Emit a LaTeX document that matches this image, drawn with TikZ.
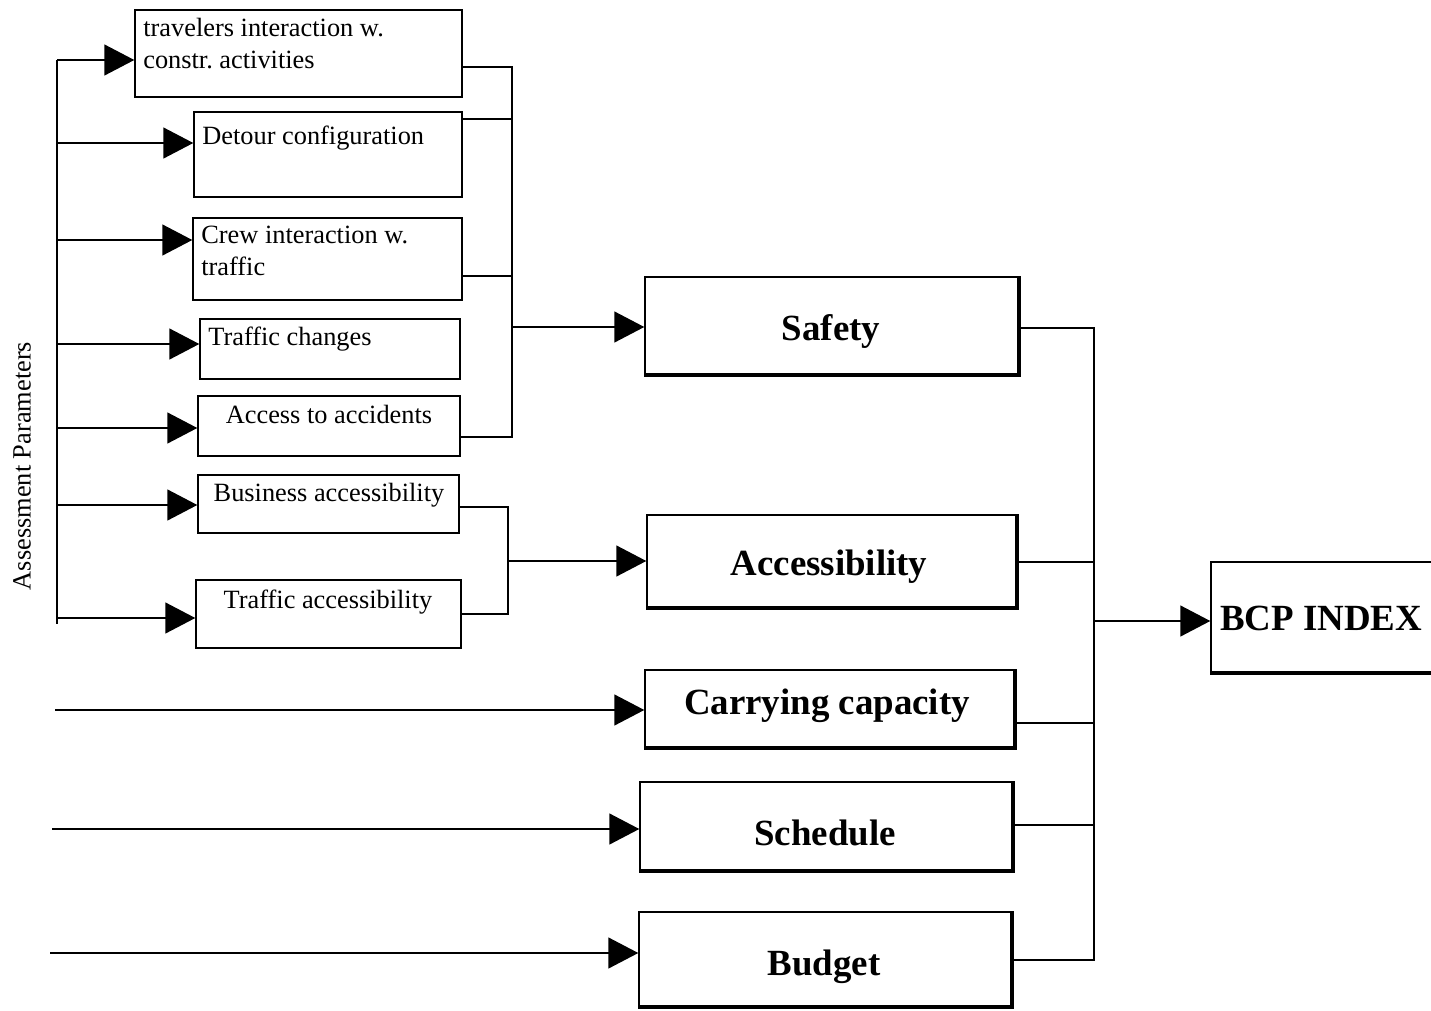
\documentclass[tikz,border=0pt]{standalone}
\usepackage{fontspec}
\setmainfont{Liberation Serif}
\frenchspacing
\usetikzlibrary{arrows.meta,positioning,fit}
\tikzstyle{parambox}=[draw, line width=0.8pt, inner sep=0pt]
\tikzstyle{paramtext}=[inner sep=0pt, font=\fontsize{15}{18.2}\selectfont, align=left]
\tikzstyle{critbox}=[draw, line width=0.8pt, inner sep=0pt, font=\fontsize{21}{25}\selectfont\bfseries]
\tikzstyle{boxshadow}=[line width=2.2pt]
\tikzstyle{feedline}=[line width=0.8pt]
\tikzstyle{feedarrow}=[line width=0.8pt, -{Triangle[length=0.6cm, width=0.62cm]}]

\begin{document}
\begin{tikzpicture}[x=0.02cm, y=-0.02cm]
    \useasboundingbox (0,0) rectangle (1431,1011);

    % Parâmetros de avaliação
    \node[parambox, fit={(135,10) (462,97)}]  (d1) {};
    \node[parambox, fit={(194,112) (462,197)}] (d2) {};
    \node[parambox, fit={(193,218) (462,300)}] (d3) {};
    \node[parambox, fit={(200,319) (460,379)}] (d4) {};
    \node[parambox, fit={(198,396) (460,456)}] (d5) {};
    \node[parambox, fit={(198,475) (459,533)}] (d6) {};
    \node[parambox, fit={(196,580) (461,648)}] (d7) {};

    \node[paramtext, anchor=north west] (t1) at (143,18)  {travelers interaction w.\\constr. activities};
    \node[paramtext, anchor=north west] (t2) at (202,126) {Detour configuration};
    \node[paramtext, anchor=north west] (t3) at (201,226) {Crew interaction w.\\traffic};
    \node[paramtext, anchor=north west] (t4) at (208,327) {Traffic changes};
    \node[paramtext, anchor=north] (t5) at (329,405) {Access to accidents};
    \node[paramtext, anchor=north] (t6) at (329,483) {Business accessibility};
    \node[paramtext, anchor=north] (t7) at (328,590) {Traffic accessibility};

    \node[paramtext, rotate=90] (ap) at (22,466) {Assessment Parameters};

    % Critérios
    \node[critbox, fit={(645,277) (1018,374)}] (safety) {};
    \node[critbox, fit={(647,515) (1016,607)}] (access) {};
    \node[critbox, fit={(645,670) (1014,747)}] (carry) {};
    \node[critbox, fit={(640,782) (1012,870)}] (sched) {};
    \node[critbox, fit={(639,912) (1011,1006)}] (budget) {};
    \node[critbox, fit={(1211,562) (1433,672)}] (bcp) {};

    \node[critbox, draw=none] (safetyt) at (831,331) {Safety};
    \node[critbox, draw=none] (accesst) at (829,567) {Accessibility};
    \node[critbox, draw=none] (carryt) at (827,706) {Carrying capacity};
    \node[critbox, draw=none] (schedt) at (825,833) {Schedule};
    \node[critbox, draw=none] (budgett) at (824,967) {Budget};
    \node[critbox, draw=none] (bcpt) at (1321,618) {BCP INDEX};

    \foreach \n in {safety, access, carry, sched, budget, bcp}
      \draw[boxshadow] (\n.north east) -- (\n.south east) -- (\n.south west);

    % Barramento de entrada
    \coordinate (lbustop) at (57,60);
    \coordinate (lbusbot) at (57,624);
    \draw[feedline] (lbustop) -- (lbusbot);
    \foreach \n/\y in {d1/60, d2/143, d3/240, d4/344, d5/428, d6/505, d7/618}
      \draw[feedarrow] (57,\y) -- (\n.west |- 0,\y);

    \coordinate (cin) at (55,710);
    \coordinate (sin) at (52,829);
    \coordinate (bin) at (50,953);
    \draw[feedarrow] (cin) -- (carry.west |- cin);
    \draw[feedarrow] (sin) -- (sched.west |- sin);
    \draw[feedarrow] (bin) -- (budget.west |- bin);

    % Segurança
    \coordinate (sbus) at (512,327);
    \draw[feedline] (d1.east |- 0,67) -| (512,437) -- (d5.east |- 0,437);
    \draw[feedline] (d2.east |- 0,119) -- (512,119);
    \draw[feedline] (d3.east |- 0,276) -- (512,276);
    \draw[feedarrow] (sbus) -- (safety.west |- sbus);

    % Acessibilidade
    \coordinate (abus) at (508,561);
    \draw[feedline] (d6.east |- 0,507) -| (508,614) -- (d7.east |- 0,614);
    \draw[feedarrow] (abus) -- (access.west |- abus);

    % Índice
    \coordinate (ibus) at (1094,621);
    \draw[feedline] (safety.east |- 0,328) -| (1094,960) -- (budget.east |- 0,960);
    \draw[feedline] (access.east |- 0,562) -- (1094,562);
    \draw[feedline] (carry.east |- 0,723) -- (1094,723);
    \draw[feedline] (sched.east |- 0,825) -- (1094,825);
    \draw[feedarrow] (ibus) -- (bcp.west |- ibus);
\end{tikzpicture}
\end{document}
